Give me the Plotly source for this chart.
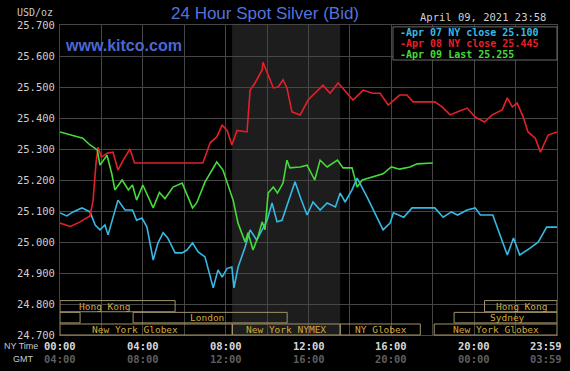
import plotly.graph_objects as go

# ---------------- data ----------------
apr07_t = [0, 0.33, 0.63, 1.06, 1.45, 1.7, 1.93, 2.17, 2.32, 2.56, 2.8, 3.14, 3.5, 3.7, 3.96, 4.2, 4.5,
           4.73, 4.98, 5.2, 5.56, 5.9, 6.13, 6.4, 6.67, 7.0, 7.4, 7.63, 7.83, 8.07, 8.3, 8.4, 8.6, 8.94,
           9.18, 9.5, 9.76, 10.0, 10.24, 10.48, 10.72, 11.0, 11.35, 11.6, 11.93, 12.22, 12.56, 12.9,
           13.3, 13.53, 13.77, 14.1, 14.35, 14.83, 15.3, 15.6, 15.94, 16.1, 16.6, 17.0, 18.1, 18.5,
           18.9, 19.2, 19.66, 20.05, 20.3, 20.9, 21.16, 21.6, 21.9, 22.2, 22.7, 23.1, 23.5, 24]
apr07_v = [25.094, 25.084, 25.097, 25.11, 25.097, 25.055, 25.039, 25.055, 25.023, 25.08, 25.135, 25.103,
           25.103, 25.07, 25.077, 25.048, 24.942, 24.997, 25.03, 25.013, 24.965, 24.965, 24.974, 24.997,
           24.968, 24.952, 24.852, 24.91, 24.887, 24.915, 24.919, 24.852, 24.919, 24.984, 25.039, 25.006,
           25.039, 25.07, 25.126, 25.065, 25.07, 25.126, 25.194, 25.145, 25.087, 25.129, 25.103, 25.126,
           25.113, 25.158, 25.129, 25.168, 25.206, 25.145, 25.08, 25.039, 25.061, 25.094, 25.08, 25.11,
           25.11, 25.08, 25.097, 25.087, 25.103, 25.11, 25.087, 25.087, 25.039, 24.958, 25.013, 24.958,
           24.98, 25.0, 25.048, 25.048]

apr08_t = [0, 0.5, 0.97, 1.45, 1.6, 1.74, 1.84, 2.0, 2.3, 2.56, 2.8, 3.05, 3.38, 3.6, 6.9, 7.25, 7.57,
           7.83, 8.07, 8.3, 8.55, 9.03, 9.18, 9.42, 9.76, 9.8, 10.05, 10.3, 10.53, 10.77, 10.96, 11.2,
           11.6, 11.98, 12.7, 13.04, 13.43, 13.86, 14.15, 14.64, 15.1, 15.46, 15.85, 16.4, 16.75, 17.05,
           18.1, 18.45, 18.84, 19.2, 19.66, 20.05, 20.5, 20.87, 21.35, 21.6, 21.84, 22.08, 22.37, 22.6,
           22.95, 23.2, 23.57, 24]
apr08_v = [25.061, 25.05, 25.065, 25.084, 25.135, 25.255, 25.306, 25.274, 25.287, 25.29, 25.232, 25.264,
           25.3, 25.255, 25.255, 25.32, 25.339, 25.377, 25.36, 25.313, 25.36, 25.355, 25.49, 25.513,
           25.555, 25.58, 25.539, 25.497, 25.5, 25.523, 25.497, 25.42, 25.41, 25.458, 25.506, 25.48,
           25.513, 25.48, 25.458, 25.49, 25.48, 25.48, 25.442, 25.474, 25.474, 25.452, 25.452, 25.436,
           25.41, 25.42, 25.432, 25.403, 25.387, 25.41, 25.426, 25.465, 25.436, 25.448, 25.403, 25.355,
           25.335, 25.29, 25.345, 25.355]

apr09_t = [0, 0.5, 1.1, 1.45, 1.8, 1.93, 2.27, 2.5, 2.65, 3.0, 3.3, 3.5, 3.7, 4.0, 4.5, 4.8, 5.07, 5.46,
           5.9, 6.4, 6.6, 7.0, 7.57, 7.87, 8.07, 8.36, 8.6, 8.94, 9.08, 9.32, 9.56, 9.76, 9.9, 10.05,
           10.3, 10.5, 10.77, 10.96, 11.1, 11.6, 11.93, 12.3, 12.56, 12.9, 13.4, 13.67, 14.1, 14.35,
           14.6, 15.1, 15.6, 16.0, 16.4, 16.9, 17.25, 18.0]
apr09_v = [25.355, 25.345, 25.335, 25.313, 25.297, 25.248, 25.28, 25.22, 25.168, 25.2, 25.168, 25.184,
           25.135, 25.184, 25.11, 25.16, 25.14, 25.177, 25.19, 25.11, 25.126, 25.193, 25.258, 25.232,
           25.19, 25.135, 25.06, 25.0, 25.03, 24.974, 25.016, 25.065, 25.04, 25.158, 25.177, 25.158,
           25.19, 25.264, 25.239, 25.242, 25.248, 25.2, 25.264, 25.242, 25.264, 25.239, 25.239, 25.177,
           25.2, 25.21, 25.22, 25.242, 25.235, 25.242, 25.252, 25.255]

legend_labels = ["-Apr 07 NY close 25.100", "-Apr 08 NY close 25.445", "-Apr 09 Last 25.255"]

y_ticks = [24.7, 24.8, 24.9, 25.0, 25.1, 25.2, 25.3, 25.4, 25.5, 25.6, 25.7]
x_tick_hours = [0, 4, 8, 12, 16, 20, 24]
ny_time_labels = ["00:00", "04:00", "08:00", "12:00", "16:00", "20:00", "23:59"]
gmt_labels = ["04:00", "08:00", "12:00", "16:00", "20:00", "00:00", "03:59"]

nymex_window = [8.31, 13.53]

# sessions: name, start hour, end hour, row (0 top), label centre hour
session_names = ["Hong Kong", "Hong Kong", "", "London", "Sydney",
                 "New York Globex", "New York NYMEX", "NY Globex", "New York Globex"]
session_start = [0, 20.5, 0, 3.53, 19.03, 0, 8.33, 13.53, 18.07]
session_end = [5.56, 24, 0.97, 10.97, 24, 8.31, 13.53, 17.4, 24]
session_row = [0, 0, 1, 1, 1, 2, 2, 2, 2]
session_label_at = [2.17, 22.3, 0.5, 7.1, 21.6, 3.62, 10.93, 15.5, 21.05]

# ---------------- style ----------------
C_BLUE = "#36b9e4"
C_RED = "#e3202a"
C_GREEN = "#44dc38"
GRID = "#464646"
GOLD = "#d2aa3e"
BOX = "#a29468"
MONO = "DejaVu Sans Mono"

fig = go.Figure()
for t, v, c in [(apr07_t, apr07_v, C_BLUE), (apr08_t, apr08_v, C_RED), (apr09_t, apr09_v, C_GREEN)]:
    fig.add_trace(go.Scatter(x=t, y=v, mode="lines", line=dict(color=c, width=1.6), hoverinfo="skip"))

shapes = []
# NYMEX shaded window
shapes.append(dict(type="rect", xref="x", yref="paper", x0=nymex_window[0], x1=nymex_window[1],
                   y0=0, y1=1, fillcolor="#1d1d1d", line=dict(width=0), layer="below"))

row_y = [(0.075, 0.111), (0.039, 0.073), (0.0, 0.0355)]
annotations = []
for name, s, e, r, lab in zip(session_names, session_start, session_end, session_row, session_label_at):
    y0, y1 = row_y[r]
    shapes.append(dict(type="rect", xref="x", yref="paper", x0=s, x1=e, y0=y0, y1=y1,
                       line=dict(color=BOX, width=1), fillcolor="rgba(0,0,0,0)", layer="above"))
    if name:
        annotations.append(dict(text=name, x=lab, y=(y0 + y1) / 2, xref="x", yref="paper",
                                showarrow=False, xanchor="center", yanchor="middle",
                                font=dict(family=MONO, size=9.5, color=GOLD)))

# legend box
shapes.append(dict(type="rect", xref="paper", yref="paper", x0=0.67, x1=1.0, y0=0.887, y1=0.994,
                   fillcolor="#000000", line=dict(color="#6a6a6a", width=1), layer="above"))
for lbl, c, yy in zip(legend_labels, [C_BLUE, C_RED, C_GREEN], [0.975, 0.940, 0.905]):
    annotations.append(dict(text="<b>" + lbl + "</b>", x=0.681, y=yy, xref="paper", yref="paper",
                            showarrow=False, xanchor="left", yanchor="middle",
                            font=dict(family=MONO, size=10, color=c)))

# x labels
for h, a, b in zip(x_tick_hours, ny_time_labels, gmt_labels):
    anchor = "right" if h == 24 else "center"
    shift = 7 if h == 24 else 0
    annotations.append(dict(text="<b>" + a + "</b>", x=h, y=-0.036, xref="x", yref="paper",
                            showarrow=False, xanchor=anchor, yanchor="middle", xshift=shift,
                            font=dict(family=MONO, size=10.5, color="#d6d6d6")))
    annotations.append(dict(text="<b>" + b + "</b>", x=h, y=-0.076, xref="x", yref="paper",
                            showarrow=False, xanchor=anchor, yanchor="middle", xshift=shift,
                            font=dict(family=MONO, size=10.5, color="#5e5e5e")))
annotations.append(dict(text="NY Time", x=-0.117, y=-0.036, xref="paper", yref="paper", showarrow=False,
                        xanchor="left", yanchor="middle", font=dict(family="Liberation Sans", size=9, color="#c8c8c8")))
annotations.append(dict(text="GMT", x=-0.098, y=-0.076, xref="paper", yref="paper", showarrow=False,
                        xanchor="left", yanchor="middle", font=dict(family="Liberation Sans", size=9, color="#c8c8c8")))

# header texts
annotations.append(dict(text="24 Hour Spot Silver (Bid)", x=0.4125, y=1.037, xref="paper", yref="paper",
                        showarrow=False, xanchor="center", yanchor="middle",
                        font=dict(family="Liberation Sans", size=17, color="#5572dc")))
annotations.append(dict(text="<b>www.kitco.com</b>", x=0.006, y=0.935, xref="paper", yref="paper",
                        showarrow=False, xanchor="left", yanchor="middle",
                        font=dict(family="Liberation Sans", size=16, color="#4a68d2")))
annotations.append(dict(text="USD/oz", x=-0.01, y=1.04, xref="paper", yref="paper", showarrow=False,
                        xanchor="right", yanchor="middle", font=dict(family=MONO, size=10, color="#c8c8c8")))
annotations.append(dict(text="April 09, 2021 23:58", x=0.982, y=1.026, xref="paper", yref="paper",
                        showarrow=False, xanchor="right", yanchor="middle",
                        font=dict(family=MONO, size=10.5, color="#cfcfcf")))

fig.update_layout(
    width=570, height=371,
    margin=dict(l=60, r=13, t=25, b=36),
    paper_bgcolor="#000000", plot_bgcolor="#000000",
    showlegend=False, hovermode=False,
    shapes=shapes, annotations=annotations,
    xaxis=dict(range=[0, 24], dtick=2, tick0=0, showticklabels=False, showgrid=True,
               gridcolor=GRID, gridwidth=1, zeroline=False, showline=True, linecolor=GRID,
               mirror=True, ticks=""),
    yaxis=dict(range=[24.7, 25.7], tickvals=y_ticks, tickformat=".3f", showgrid=True, gridcolor=GRID,
               gridwidth=1, zeroline=False, showline=True, linecolor=GRID, mirror=True,
               ticks="outside", ticklen=2, tickcolor="#000000",
               tickfont=dict(family=MONO, size=10.5, color="#cfcfcf")),
)

fig.write_html("out.html", config={"displayModeBar": False},
               post_script="document.body.style.margin='0';document.body.style.background='#000';")
